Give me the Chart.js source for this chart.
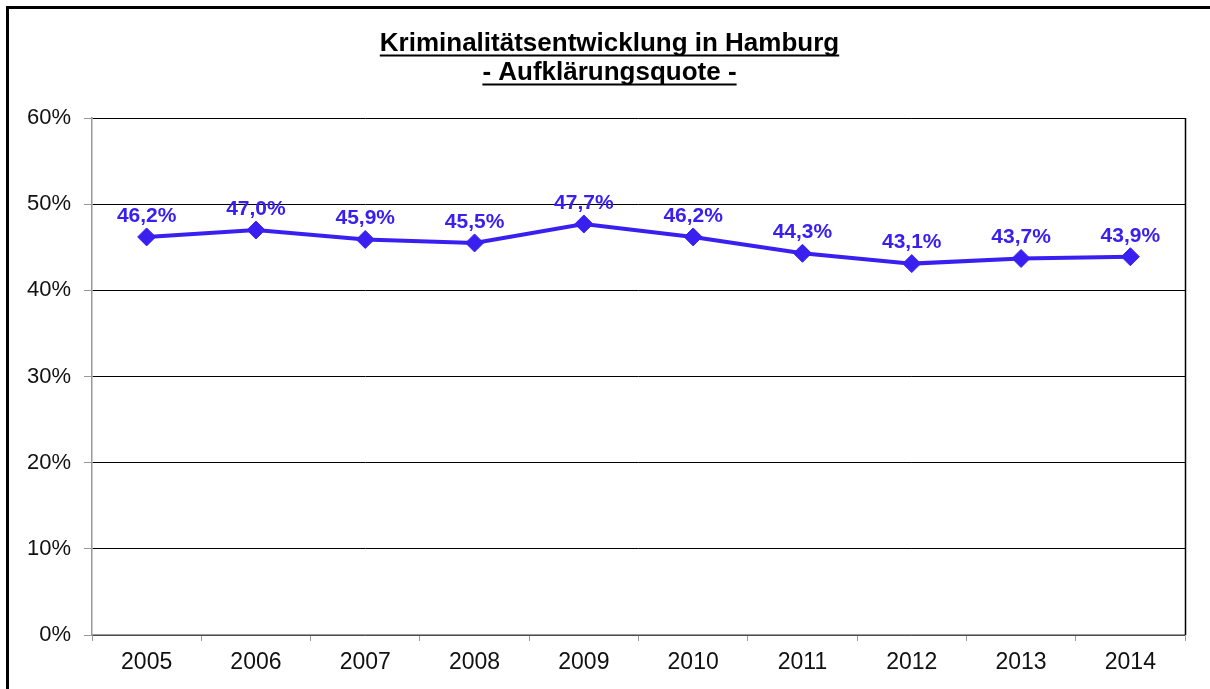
<!DOCTYPE html>
<html>
<head>
<meta charset="utf-8">
<script src="https://cdn.jsdelivr.net/npm/chart.js@4/dist/chart.umd.min.js"></script>
<style>
  html, body { margin: 0; padding: 0; background: #fff; overflow: hidden; }
  #wrap { position: relative; width: 1210px; height: 689px; }
  #frame { position: absolute; left: 6px; top: 6px; width: 1300px; height: 800px;
           border-left: 3px solid #000; border-top: 3px solid #000; pointer-events: none; }
</style>
</head>
<body>
<div id="wrap">
  <canvas id="chart" width="1210" height="689"></canvas>
  <div id="frame"></div>
</div>
<script>
var jahre = ["2005", "2006", "2007", "2008", "2009", "2010", "2011", "2012", "2013", "2014"];
var quote = [46.2, 47.0, 45.9, 45.5, 47.7, 46.2, 44.3, 43.1, 43.7, 43.9];
var titelZeilen = ["Kriminalitätsentwicklung in Hamburg", "- Aufklärungsquote -"];
var farbe = "#3A20F0";
var titelZeile = 29; // Zeilenhöhe Titel

function fmt(v) {
    return v.toFixed(1).replace(".", ",") + "%";
}

// Titel etwas nach rechts, Unterstreichung, rechter Rahmen, Datenbeschriftungen
var extras = {
    id: "extras",
    afterLayout: function(chart) {
        chart.titleBlock.left = 34;
    },
    afterDraw: function(chart) {
        var ctx = chart.ctx;
        var area = chart.chartArea;
        ctx.save();

        ctx.strokeStyle = "#000";
        ctx.lineWidth = 1.5;
        ctx.beginPath();
        ctx.moveTo(area.right + 0.5, area.top);
        ctx.lineTo(area.right + 0.5, area.bottom);
        ctx.stroke();

        var tb = chart.titleBlock;
        var topt = chart.options.plugins.title;
        ctx.font = "bold 26px 'Liberation Sans'";
        var cx = (tb.left + tb.right) / 2;
        ctx.lineWidth = 2;
        titelZeilen.forEach(function(t, i) {
            var w = ctx.measureText(t).width;
            var y = tb.top + topt.padding.top + titelZeile * i + titelZeile / 2 + 12;
            ctx.beginPath();
            ctx.moveTo(cx - w / 2, y);
            ctx.lineTo(cx + w / 2, y);
            ctx.stroke();
        });

        var meta = chart.getDatasetMeta(0);
        ctx.fillStyle = farbe;
        ctx.font = "bold 21px 'Liberation Sans'";
        ctx.textAlign = "center";
        ctx.textBaseline = "middle";
        meta.data.forEach(function(p, i) {
            ctx.fillText(fmt(quote[i]), p.x, p.y - 21);
        });
        ctx.restore();
    }
};

var ctx = document.getElementById("chart").getContext("2d");
var myChart = new Chart(ctx, {
    type: "line",
    data: {
        labels: jahre,
        datasets: [{
            label: "Aufklärungsquote",
            data: quote,
            borderColor: farbe,
            backgroundColor: farbe,
            borderWidth: 4,
            pointStyle: "rectRot",
            pointRadius: 9,
            pointBorderWidth: 1,
            pointBackgroundColor: farbe,
            pointBorderColor: farbe,
            tension: 0
        }]
    },
    options: {
        responsive: false,
        animation: false,
        layout: { padding: { left: 0, right: 25, top: 0, bottom: 0 } },
        plugins: {
            legend: { display: false },
            tooltip: { enabled: false },
            title: {
                display: true,
                text: titelZeilen,
                color: "#000",
                font: { family: "'Liberation Sans'", size: 26, weight: "bold", lineHeight: titelZeile / 26 },
                padding: { top: 29, bottom: 31 }
            }
        },
        scales: {
            x: {
                offset: true,
                grid: { offset: true, drawOnChartArea: false, tickLength: 6, color: "#999" },
                border: { color: "#999", width: 1.5 },
                ticks: { color: "#111", padding: 8, font: { family: "'Liberation Sans'", size: 23 } },
                afterFit: function(s) { s.height = 54; }
            },
            y: {
                min: 0,
                max: 60,
                grid: { color: "#000", tickColor: "#999", tickLength: 8, lineWidth: 1 },
                border: { color: "#999", width: 1.5 },
                ticks: {
                    stepSize: 10,
                    color: "#111",
                    padding: 13,
                    font: { family: "'Liberation Sans'", size: 22 },
                    callback: function(v) { return v + "%"; }
                },
                afterFit: function(s) { s.width = 92; }
            }
        }
    },
    plugins: [extras]
});
</script>
</body>
</html>
